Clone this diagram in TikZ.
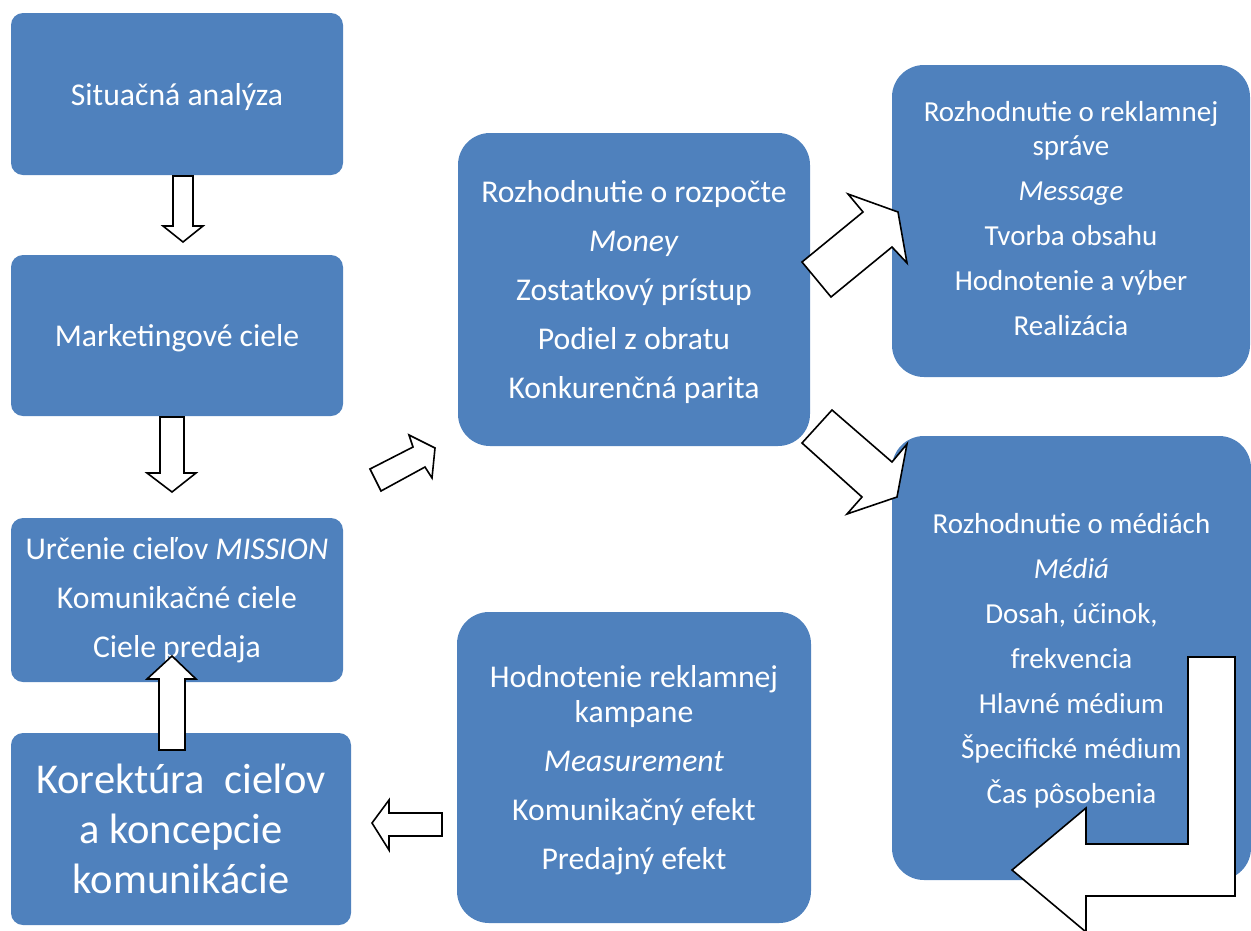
\documentclass[tikz,border=0pt]{standalone}
\usepackage{fontspec}
\setmainfont{Carlito}
\definecolor{boxblue}{HTML}{4F81BD}

\tikzset{
  stepbox/.style={rectangle, fill=boxblue, inner sep=0pt},
  smallbox/.style={stepbox, rounded corners=12pt},
  bigbox/.style={stepbox, rounded corners=32pt},
  boxtext/.style={text=white, align=center, inner sep=0pt},
  normtext/.style={boxtext, font=\fontsize{31.7}{49}\selectfont},
  medtext/.style={boxtext, font=\fontsize{29}{45}\selectfont},
  largetext/.style={boxtext, font=\fontsize{42.5}{50}\selectfont},
  blockarrow/.style={draw=black, fill=white, line width=1.6pt, line join=miter}
}

\begin{document}
\begin{tikzpicture}[x=1pt, y=-1pt]

      \useasboundingbox (0,0) rectangle (1251,930);

      % left column
      \node[smallbox, minimum width=332pt, minimum height=162pt] (sit)  at (177,94)    {};
      \node[smallbox, minimum width=332pt, minimum height=161pt] (mark) at (177,335.5) {};
      \node[smallbox, minimum width=332pt, minimum height=164pt] (ciel) at (177,600)   {};
      \node[smallbox, minimum width=340pt, minimum height=192pt] (kor)  at (181,829)   {};

      \node[normtext] (sit-t)  at ([yshift=-3pt]sit.center)  {Situačná analýza};
      \node[normtext] (mark-t) at ([yshift=-3pt]mark.center) {Marketingové ciele};
      \node[normtext] (ciel-t) at (ciel.center)
        {Určenie cieľov \textit{MISSION}\\ Komunikačné ciele\\ Ciele predaja};
      \node[largetext] (kor-t) at (kor.center)
        {Korektúra\hspace{0.45em}cieľov\\ a koncepcie\\ komunikácie};

      % middle column
      \node[bigbox, minimum width=352pt, minimum height=313pt] (rozp) at (634,289.5) {};
      \node[bigbox, minimum width=354pt, minimum height=311pt] (hodn) at (634,767.5) {};

      \node[normtext] (rozp-t) at ([yshift=-3pt]rozp.center)
        {Rozhodnutie o rozpočte\\ \textit{Money}\\ Zostatkový prístup\\ Podiel z obratu\\ Konkurenčná parita};
      \node[normtext] (hodn-t) at ([yshift=-3pt]hodn.center)
        {Hodnotenie reklamnej\\[-14pt] kampane\\ \textit{Measurement}\\ Komunikačný efekt\\ Predajný efekt};

      % right column
      \node[bigbox, minimum width=358pt, minimum height=312pt] (sprv) at (1071,221)   {};
      \node[bigbox, minimum width=359pt, minimum height=444pt] (medi) at (1071.5,658) {};

      \node[medtext] (sprv-t) at ([yshift=2pt]sprv.center)
        {Rozhodnutie o reklamnej\\[-11pt] správe\\ \textit{Message}\\ Tvorba obsahu\\ Hodnotenie a výber\\ Realizácia};
      \node[medtext] (medi-t) at ([yshift=-3pt]medi.center)
        {Rozhodnutie o médiách\\ \textit{Médiá}\\ Dosah, účinok,\\ frekvencia\\ Hlavné médium\\ Špecifické médium\\ Čas pôsobenia};

      % block arrows
      \draw[blockarrow] (173,176) -- (193,176) -- (193,226) -- (203,226) -- (183,242)
                        -- (163,226) -- (173,226) -- cycle;
      \draw[blockarrow] (160,417) -- (184,417) -- (184,473) -- (196,473) -- (172,492)
                        -- (147,473) -- (160,473) -- cycle;
      \draw[blockarrow] (159,750) -- (185,750) -- (185,679) -- (196,679) -- (172,656)
                        -- (147,679) -- (159,679) -- cycle;
      \draw[blockarrow] (442,813) -- (389,813) -- (389,800) -- (372,823) -- (389,850)
                        -- (389,836) -- (442,836) -- cycle;
      \draw[blockarrow] (370,469) -- (413,447) -- (409,435) -- (435,448) -- (432,478)
                        -- (425,467) -- (381,491) -- cycle;
      \draw[blockarrow] (802,262) -- (863,212) -- (848,194) -- (898,212) -- (907,263)
                        -- (892,247) -- (831,297) -- cycle;
      \draw[blockarrow] (832,410) -- (892,462) -- (907,444) -- (897,497) -- (847,514)
                        -- (862,497) -- (802,443) -- cycle;
      \draw[blockarrow] (1188,657) -- (1235,657) -- (1235,896) -- (1086,896) -- (1086,932)
                        -- (1012,870) -- (1086,808) -- (1086,844) -- (1188,844) -- cycle;

    \end{tikzpicture}
\end{document}
